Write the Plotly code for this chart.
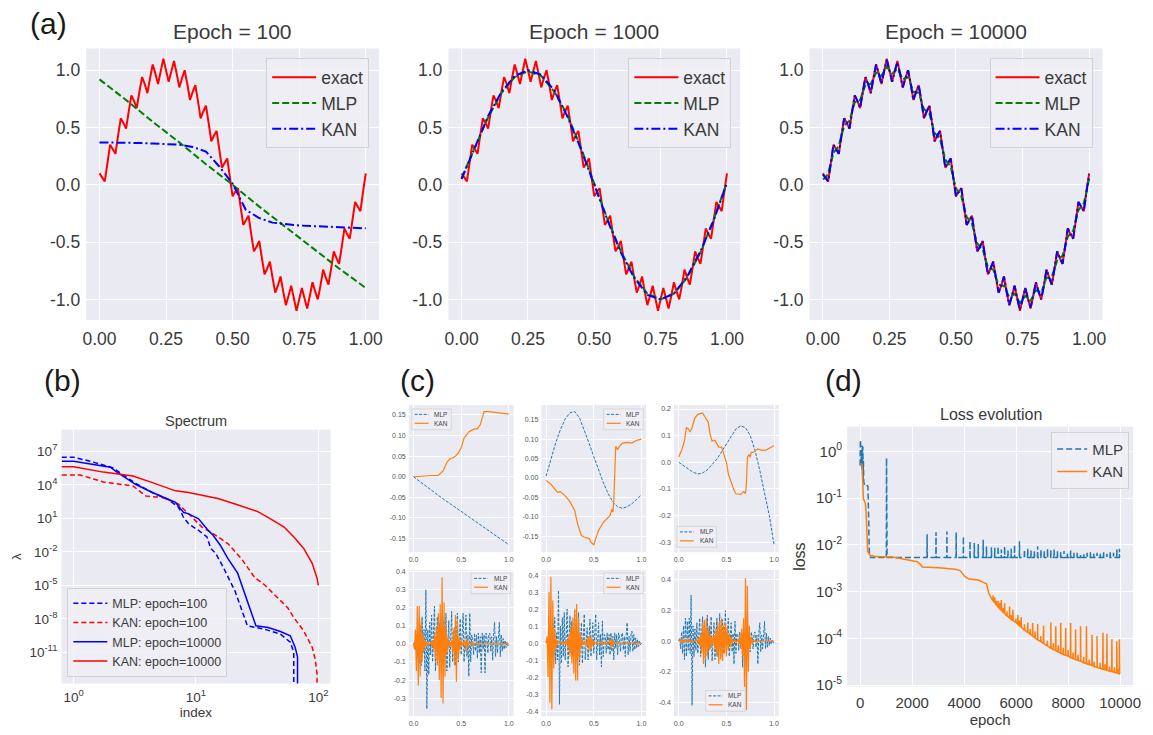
import numpy as np
import plotly.graph_objects as go

W, H = 1153, 735
BG = "#EAEAF2"
TXT = "#3a3a3a"
FONT = "Liberation Sans, Arial, sans-serif"

# ---------------- (a) function fits at three training stages ----------------
exact = [0.10, 0.06, 0.03, 0.19, 0.35, 0.31, 0.27, 0.43, 0.58, 0.54, 0.49, 0.64, 0.78, 0.73, 0.67,
         0.81, 0.94, 0.88, 0.80, 0.93, 1.05, 0.97, 0.88, 0.99, 1.10, 1.00, 0.90, 0.99, 1.08, 0.97,
         0.85, 0.93, 1.00, 0.88, 0.74, 0.81, 0.87, 0.73, 0.58, 0.64, 0.69, 0.54, 0.38, 0.43, 0.47,
         0.31, 0.15, 0.19, 0.23, 0.06, -0.10, -0.06, -0.03, -0.19, -0.35, -0.31, -0.27, -0.43, -0.58,
         -0.54, -0.49, -0.64, -0.78, -0.73, -0.67, -0.81, -0.94, -0.88, -0.80, -0.93, -1.05, -0.97,
         -0.88, -0.99, -1.10, -1.00, -0.90, -0.99, -1.08, -0.97, -0.85, -0.93, -1.00, -0.88, -0.74,
         -0.81, -0.87, -0.73, -0.58, -0.64, -0.69, -0.54, -0.38, -0.43, -0.47, -0.31, -0.15, -0.19,
         -0.23, -0.06, 0.10]

mlp_e100 = [0.92, 0.74, 0.55, 0.37, 0.18, 0.00, -0.19, -0.37, -0.55, -0.73, -0.90]
kan_e100 = [0.37, 0.37, 0.37, 0.365, 0.36, 0.355, 0.35, 0.33, 0.29, 0.16, 0.01, -0.22, -0.29,
            -0.33, -0.345, -0.355, -0.36, -0.365, -0.37, -0.375, -0.38]

mlp_e1000 = [0.06, 0.33, 0.59, 0.80, 0.94, 0.99, 0.95, 0.81, 0.60, 0.32, 0.01, -0.30, -0.58,
             -0.80, -0.95, -1.00, -0.95, -0.81, -0.59, -0.30, 0.02]
kan_e1000 = [0.05, 0.32, 0.60, 0.81, 0.95, 1.00, 0.96, 0.82, 0.59, 0.31, 0.00, -0.31, -0.59,
             -0.81, -0.96, -1.00, -0.95, -0.80, -0.58, -0.31, 0.02]

mlp_e10000 = [0.05, 0.06, 0.10, 0.19, 0.28, 0.31, 0.34, 0.43, 0.51, 0.54, 0.56, 0.64, 0.72, 0.73,
              0.74, 0.81, 0.87, 0.88, 0.88, 0.93, 0.98, 0.97, 0.95, 0.99, 1.03, 1.00, 0.97, 0.99,
              1.01, 0.97, 0.92, 0.93, 0.94, 0.88, 0.81, 0.81, 0.80, 0.73, 0.66, 0.64, 0.62, 0.54,
              0.45, 0.43, 0.40, 0.31, 0.22, 0.19, 0.16, 0.06, -0.03, -0.06, -0.10, -0.19, -0.28,
              -0.31, -0.34, -0.43, -0.51, -0.54, -0.56, -0.64, -0.72, -0.73, -0.74, -0.81, -0.87,
              -0.88, -0.88, -0.93, -0.98, -0.97, -0.95, -0.99, -1.03, -1.00, -0.97, -0.99, -1.01,
              -0.97, -0.92, -0.93, -0.94, -0.88, -0.81, -0.81, -0.80, -0.73, -0.66, -0.64, -0.62,
              -0.54, -0.45, -0.43, -0.40, -0.31, -0.22, -0.19, -0.16, -0.06, 0.05]
kan_e10000 = [0.09, 0.06, 0.03, 0.19, 0.35, 0.31, 0.27, 0.43, 0.58, 0.54, 0.49, 0.64, 0.78, 0.73,
              0.67, 0.81, 0.94, 0.88, 0.80, 0.93, 1.05, 0.97, 0.88, 0.99, 1.09, 1.00, 0.90, 0.99,
              1.07, 0.97, 0.85, 0.93, 1.00, 0.88, 0.74, 0.81, 0.87, 0.73, 0.58, 0.64, 0.69, 0.54,
              0.38, 0.43, 0.47, 0.31, 0.15, 0.19, 0.23, 0.06, -0.10, -0.06, -0.03, -0.19, -0.35,
              -0.31, -0.27, -0.43, -0.58, -0.54, -0.49, -0.64, -0.78, -0.73, -0.67, -0.81, -0.94,
              -0.88, -0.80, -0.93, -1.05, -0.97, -0.88, -0.99, -1.09, -1.00, -0.90, -0.99, -1.07,
              -0.97, -0.85, -0.93, -1.00, -0.88, -0.74, -0.81, -0.87, -0.73, -0.58, -0.64, -0.69,
              -0.54, -0.38, -0.43, -0.47, -0.31, -0.15, -0.19, -0.23, -0.06, 0.09]

fit_titles = ["Epoch = 100", "Epoch = 1000", "Epoch = 10000"]
fit_mlp = [mlp_e100, mlp_e1000, mlp_e10000]
fit_kan = [kan_e100, kan_e1000, kan_e10000]
fit_xticks = [0.0, 0.25, 0.5, 0.75, 1.0]
fit_xtext = ["0.00", "0.25", "0.50", "0.75", "1.00"]
fit_yticks = [-1.0, -0.5, 0.0, 0.5, 1.0]
fit_ytext = ["-1.0", "-0.5", "0.0", "0.5", "1.0"]

# ---------------- (b) NTK spectrum (log10 of eigenvalues) ----------------
mlp100_idx = [0.8, 1.0, 1.36, 2.1, 3.2, 4.4, 6.0, 7.2, 7.9, 8.7, 10.5, 12.3, 13.2, 14.5, 16.6,
              20.9, 26.3, 36.3, 49, 59, 63, 63]
mlp100_loglam = [6.47, 6.47, 6.12, 5.52, 4.14, 3.31, 2.66, 1.99, 1.10, 0.51, -0.08, -0.67, -1.70,
                 -2.14, -3.32, -5.54, -8.63, -8.93, -9.37, -10.1, -11.0, -16]
kan100_idx = [0.8, 1.13, 1.75, 3.05, 3.9, 5.3, 7.2, 8.7, 11.2, 14.5, 18.2, 23.4, 30.2, 36.3, 46.8,
              56.2, 63.1, 75.9, 89.1, 94.6, 97.7, 97.7]
kan100_loglam = [4.88, 4.88, 4.26, 3.9, 3.0, 2.87, 2.28, 1.40, 0.22, -0.52, -1.26, -2.59, -4.3,
                 -4.95, -6.13, -7.01, -7.9, -9.08, -10.55, -11.7, -13.0, -16]
mlp10k_idx = [0.8, 1.0, 2.0, 2.2, 3.2, 4.4, 6.8, 7.9, 8.7, 10.5, 12.6, 13.8, 15.8, 18.2, 21.9,
              27.5, 30.9, 38.9, 49, 59, 64.6, 67.6, 67.6]
mlp10k_loglam = [6.12, 6.12, 5.58, 5.23, 4.05, 3.31, 2.43, 1.54, 1.40, 0.95, -0.08, -0.52, -1.41,
                 -2.59, -3.91, -7.01, -8.63, -8.78, -9.14, -9.52, -10.55, -11.4, -16]
kan10k_idx = [0.8, 1.0, 1.75, 3.05, 4.4, 6.8, 8.7, 11.9, 15.1, 20.9, 32.0, 40.7, 52.5, 63.1,
              75.9, 89.1, 97.7, 100]
kan10k_loglam = [5.61, 5.61, 5.14, 4.79, 4.2, 3.46, 3.31, 3.02, 2.78, 2.28, 1.6, 0.95, 0.22,
                 -0.67, -1.70, -3.03, -4.36, -5.0]
spec_ticks = [7, 4, 1, -2, -5, -8, -11]

# ---------------- (c) eigenfunctions ----------------
c_tl_x = [0.0, 0.1, 0.2, 0.3, 0.4, 0.5, 0.6, 0.7, 0.8, 0.9, 1.0]
c_tl_mlp = [0.0, -0.018, -0.035, -0.052, -0.068, -0.084, -0.100, -0.117, -0.133, -0.149, -0.165]
c_tl_kx = [0.0, 0.1, 0.2, 0.26, 0.31, 0.35, 0.38, 0.415, 0.44, 0.47, 0.5, 0.53, 0.55, 0.585,
           0.64, 0.67, 0.70, 0.72, 0.74, 0.79, 0.89, 1.0]
c_tl_kan = [0.0, 0.002, 0.003, 0.003, 0.014, 0.035, 0.043, 0.046, 0.050, 0.058, 0.070, 0.094,
            0.100, 0.110, 0.116, 0.116, 0.126, 0.140, 0.158, 0.158, 0.156, 0.152]

c_tm_x = [0.0, 0.05, 0.1, 0.15, 0.2, 0.25, 0.3, 0.35, 0.4, 0.45, 0.5, 0.55, 0.6, 0.65, 0.7,
          0.75, 0.8, 0.85, 0.9, 0.95, 1.0]
c_tm_mlp = [0.005, 0.05, 0.09, 0.125, 0.152, 0.168, 0.171, 0.155, 0.125, 0.09, 0.055, 0.02,
            -0.012, -0.04, -0.062, -0.074, -0.078, -0.074, -0.066, -0.055, -0.043]
c_tm_kx = [0.0, 0.05, 0.1, 0.12, 0.15, 0.2, 0.25, 0.3, 0.33, 0.37, 0.4, 0.43, 0.45, 0.47, 0.5,
           0.52, 0.55, 0.6, 0.63, 0.67, 0.69, 0.7, 0.71, 0.72, 0.73, 0.75, 0.77, 0.8, 0.85, 0.9,
           0.95, 1.0]
c_tm_kan = [-0.006, -0.016, -0.031, -0.037, -0.035, -0.046, -0.061, -0.084, -0.118, -0.148,
            -0.152, -0.155, -0.156, -0.165, -0.172, -0.156, -0.135, -0.114, -0.107, -0.097,
            -0.080, -0.088, -0.060, -0.003, 0.082, 0.073, 0.082, 0.090, 0.092, 0.090, 0.097, 0.100]

c_tr_x = c_tm_x
c_tr_mlp = [0.0, -0.012, -0.025, -0.037, -0.044, -0.040, -0.028, -0.010, 0.012, 0.040, 0.070,
            0.100, 0.125, 0.137, 0.130, 0.100, 0.045, -0.030, -0.110, -0.200, -0.310]
c_tr_kx = [0.0, 0.03, 0.06, 0.08, 0.1, 0.12, 0.14, 0.17, 0.2, 0.25, 0.28, 0.31, 0.33, 0.35, 0.38,
           0.4, 0.42, 0.45, 0.47, 0.5, 0.52, 0.55, 0.58, 0.6, 0.65, 0.68, 0.7, 0.71, 0.72, 0.74,
           0.75, 0.76, 0.78, 0.8, 0.83, 0.87, 0.92, 0.96, 1.0]
c_tr_kan = [0.020, 0.045, 0.080, 0.130, 0.125, 0.115, 0.130, 0.167, 0.180, 0.185, 0.167, 0.150,
            0.105, 0.080, 0.083, 0.068, 0.057, 0.057, 0.037, 0.000, -0.043, -0.075, -0.105,
            -0.118, -0.120, -0.110, -0.117, -0.080, 0.019, 0.030, 0.019, 0.037, 0.037, 0.043,
            0.050, 0.045, 0.047, 0.055, 0.062]

c_bl_mlp = [0.00, 0.01, -0.03, 0.05, -0.08, 0.06, -0.11, 0.10, -0.12, 0.15, -0.05, 0.08, -0.15,
            0.30, -0.36, 0.08, -0.17, 0.12, -0.06, 0.16, -0.10, 0.05, 0.21, -0.15, 0.06, 0.15,
            -0.05, 0.12, -0.08, 0.03, 0.15, -0.12, 0.13, -0.06, 0.17, -0.15, 0.05, 0.13, -0.13,
            0.08, 0.18, -0.10, 0.06, 0.09, -0.12, 0.05, 0.17, -0.10, 0.06, 0.14, -0.06, 0.10, 0.17,
            -0.10, 0.09, 0.16, -0.07, 0.05, -0.18, 0.17, -0.10, 0.05, 0.03, -0.06, 0.06, -0.04,
            0.05, -0.08, 0.06, -0.05, 0.04, -0.16, 0.06, -0.03, 0.05, -0.16, 0.06, 0.03, -0.05,
            0.05, 0.06, -0.04, 0.04, -0.09, 0.05, 0.12, -0.07, 0.04, -0.05, 0.05, 0.12, -0.07,
            0.05, -0.04, 0.03, -0.03, 0.02, -0.02, 0.01, -0.01, 0.00]
c_bl_kan = [0.00, -0.03, 0.08, -0.15, 0.21, -0.23, 0.21, -0.18, 0.13, -0.10, 0.06, -0.04, 0.02,
            -0.01, 0.01, -0.01, 0.00, 0.00, 0.01, -0.01, 0.02, -0.03, 0.05, -0.08, 0.10, -0.12,
            0.17, -0.20, 0.22, -0.30, 0.37, -0.33, 0.23, -0.18, 0.10, -0.06, 0.04, -0.02, 0.01,
            -0.01, 0.02, -0.05, 0.08, -0.12, 0.16, -0.21, 0.13, -0.08, 0.04, -0.03, 0.02, -0.01,
            0.01, 0.00, 0.02, -0.04, 0.03, -0.02, 0.01, 0.00, 0.00, 0.01, -0.01, 0.00, 0.00, 0.00,
            0.01, 0.00, -0.01, 0.00, 0.00, 0.00, 0.00, 0.00, 0.00, 0.00, 0.00, 0.00, 0.00, 0.00,
            0.00, 0.00, 0.00, 0.00, 0.00, 0.00, 0.00, 0.00, 0.00, 0.00, 0.00, 0.00, 0.00, 0.00,
            0.00, 0.00, 0.00, 0.00, 0.00, 0.00, 0.00]
c_bm_mlp = [0.00, 0.02, -0.04, 0.05, -0.06, 0.08, -0.10, 0.12, -0.08, 0.15, -0.12, 0.06, -0.10,
            0.31, -0.36, 0.10, -0.12, 0.15, -0.08, 0.18, -0.10, 0.08, 0.20, -0.14, 0.05, 0.16,
            -0.06, 0.13, -0.08, 0.05, 0.19, -0.12, 0.10, -0.05, 0.18, -0.13, 0.06, 0.12, -0.12,
            0.08, 0.17, -0.10, 0.05, 0.09, -0.10, 0.05, 0.14, -0.08, 0.06, 0.12, -0.06, 0.08, 0.17,
            -0.10, 0.07, 0.12, -0.07, 0.05, -0.14, 0.13, -0.08, 0.05, 0.04, -0.06, 0.06, -0.04,
            0.05, -0.07, 0.06, -0.05, 0.04, -0.10, 0.06, -0.03, 0.05, -0.07, 0.06, 0.03, -0.05,
            0.05, 0.06, -0.04, 0.04, -0.08, 0.05, 0.12, -0.07, 0.04, -0.05, 0.05, 0.07, -0.05,
            0.05, -0.04, 0.03, -0.03, 0.02, -0.02, 0.01, -0.01, 0.00]
c_bm_kan = [0.00, 0.04, -0.20, 0.30, -0.35, 0.39, -0.39, 0.25, -0.15, 0.08, -0.04, 0.02, -0.01,
            0.01, 0.00, 0.00, 0.00, 0.01, -0.01, 0.00, 0.01, -0.01, 0.02, -0.03, 0.05, -0.08,
            0.10, -0.12, 0.15, -0.18, 0.20, -0.22, 0.23, -0.22, 0.15, -0.10, 0.06, -0.03, 0.02,
            -0.01, 0.01, 0.00, 0.01, -0.02, 0.04, -0.05, 0.05, -0.04, 0.03, -0.02, 0.01, 0.00,
            0.00, 0.01, -0.01, 0.00, 0.00, 0.00, 0.01, 0.00, -0.01, 0.00, 0.01, -0.01, 0.00, 0.00,
            0.00, 0.02, -0.03, 0.03, -0.02, 0.01, 0.00, 0.00, 0.00, 0.00, 0.00, 0.00, 0.00, 0.00,
            0.00, 0.00, 0.00, 0.00, 0.00, 0.00, 0.00, 0.00, 0.00, 0.00, 0.00, 0.00, 0.00, 0.00,
            0.00, 0.00, 0.00, 0.00, 0.00, 0.00, 0.00]
c_br_mlp = [0.00, 0.02, -0.05, 0.06, -0.08, 0.10, -0.12, 0.15, -0.10, 0.13, -0.06, 0.15, -0.08,
            0.30, -0.42, 0.10, -0.10, 0.08, -0.06, 0.12, -0.08, 0.05, 0.15, -0.10, 0.05, 0.16,
            -0.06, 0.12, -0.17, 0.05, 0.17, -0.12, 0.10, -0.05, 0.16, -0.13, 0.06, 0.12, -0.12,
            0.08, 0.15, -0.10, 0.05, 0.18, -0.10, 0.05, 0.14, -0.08, 0.06, 0.20, -0.06, 0.08, 0.15,
            -0.10, 0.07, 0.12, -0.07, 0.05, -0.15, 0.13, -0.08, 0.05, 0.04, -0.06, 0.06, -0.04,
            0.05, -0.17, 0.06, -0.05, 0.04, -0.10, 0.06, -0.03, 0.05, -0.07, 0.06, 0.03, -0.05,
            0.05, 0.06, -0.04, 0.04, -0.15, 0.05, 0.12, -0.07, 0.04, -0.05, 0.05, 0.13, -0.05,
            0.05, -0.04, 0.03, -0.03, 0.02, -0.02, 0.01, -0.01, 0.00]
c_br_kan = [0.00, 0.01, -0.01, 0.01, -0.01, 0.01, -0.01, 0.01, 0.00, 0.01, -0.01, 0.01, 0.00,
            0.00, 0.01, -0.01, 0.00, 0.00, 0.00, 0.01, -0.01, 0.02, -0.03, 0.05, -0.08, 0.12,
            -0.15, 0.14, -0.12, 0.15, -0.10, 0.08, -0.06, 0.05, -0.04, 0.03, -0.02, 0.04, -0.06,
            0.08, -0.10, 0.12, -0.15, 0.13, -0.12, 0.15, -0.13, 0.10, -0.08, 0.12, -0.10, 0.09,
            -0.06, 0.05, -0.04, 0.03, -0.02, 0.01, 0.00, 0.01, -0.01, 0.00, 0.01, -0.02, 0.03,
            -0.05, 0.08, -0.10, 0.15, -0.30, 0.41, -0.45, 0.36, -0.20, 0.10, -0.05, 0.03, -0.02,
            0.01, 0.00, 0.00, 0.00, 0.00, 0.00, 0.00, 0.00, 0.00, 0.00, 0.00, 0.00, 0.00, 0.00,
            0.00, 0.00, 0.00, 0.00, 0.00, 0.00, 0.00, 0.00, 0.00]

# ---------------- (d) loss history (log10 loss) ----------------
kan_loss_ep = [0, 60, 76, 100, 127, 178, 203, 228, 266, 292, 380, 610, 1244, 1750, 2195, 2322,
               2386, 3020, 3655, 3845, 4036, 4188, 4543, 4733, 4860, 4950, 5050, 5305, 5558,
               5939, 6320, 6827, 7335, 7843, 8477, 9112, 9746, 10000]
kan_loss_log = [-0.27, -0.27, -0.30, -0.52, -1.01, -1.08, -1.12, -1.29, -1.64, -2.14, -2.22,
                -2.25, -2.26, -2.31, -2.36, -2.42, -2.47, -2.49, -2.52, -2.55, -2.68, -2.73,
                -2.75, -2.80, -2.83, -3.04, -3.15, -3.33, -3.47, -3.64, -3.82, -4.03, -4.21,
                -4.35, -4.49, -4.62, -4.72, -4.76]
# spikes: epoch, peak (log10), level of the curve underneath (log10)
kan_spike_ep = [5114, 5178, 5240, 5305, 5370, 5431, 5500, 5558, 5650, 5749, 5820, 5876, 5990,
                6066, 6130, 6193, 6320, 6447, 6540, 6637, 6730, 6827, 6950, 7056, 7200, 7335,
                7430, 7525, 7620, 7716, 7810, 7906, 8000, 8096, 8190, 8287, 8380, 8477, 8600,
                8706, 8810, 8921, 9000, 9112, 9230, 9340, 9420, 9492, 9590, 9683, 9780, 9873,
                9930, 9975]
kan_spike_peak = [-3.08, -3.12, -3.20, -3.20, -3.25, -3.18, -3.35, -3.25, -3.42, -3.32, -3.50,
                  -3.39, -3.58, -3.50, -3.62, -3.55, -3.70, -3.66, -3.80, -3.67, -3.85, -3.69,
                  -3.95, -3.73, -4.05, -3.66, -4.10, -3.74, -4.15, -3.67, -4.20, -3.78, -4.25,
                  -3.67, -4.30, -3.81, -4.35, -3.74, -4.40, -3.74, -4.45, -3.92, -4.50, -3.95,
                  -4.52, -3.88, -4.55, -3.90, -4.60, -4.02, -4.62, -4.06, -4.65, -4.02]
kan_spike_foot = [-3.20, -3.24, -3.28, -3.33, -3.37, -3.40, -3.44, -3.47, -3.52, -3.56, -3.60,
                  -3.62, -3.66, -3.70, -3.73, -3.76, -3.82, -3.87, -3.91, -3.95, -3.99, -4.03,
                  -4.07, -4.11, -4.16, -4.21, -4.24, -4.26, -4.29, -4.32, -4.34, -4.36, -4.38,
                  -4.41, -4.43, -4.45, -4.47, -4.49, -4.52, -4.54, -4.56, -4.58, -4.60, -4.62,
                  -4.64, -4.66, -4.67, -4.68, -4.70, -4.71, -4.73, -4.74, -4.75, -4.76]

mlp_loss_ep = [0, 8, 16, 24, 32, 45, 55, 65, 75, 85, 95, 105, 115, 125, 140, 160, 200, 230, 270,
               300, 330, 355, 400, 10000]
mlp_loss_log = [-0.30, 0.25, -0.20, 0.10, -0.30, 0.00, -0.35, -0.10, -0.40, 0.15, -0.50, 0.10,
                -0.60, -0.20, -0.65, -0.70, -0.68, -0.70, -0.72, -0.75, -1.50, -2.20, -2.27, -2.27]
mlp_floor_log = -2.27
mlp_spike_ep = [1015, 1030, 2576, 2919, 3338, 3693, 3972, 4226, 4391, 4543, 4733, 4860, 5050,
                5178, 5305, 5431, 5558, 5685, 5812, 5939, 6129, 6320, 6447, 6574, 6701, 6827,
                6954, 7081, 7208, 7335, 7462, 7589, 7716, 7843, 7970, 8096, 8223, 8350, 8477,
                8604, 8731, 8858, 8985, 9112, 9239, 9365, 9492, 9619, 9746, 9873, 9975]
mlp_spike_peak = [-0.14, -1.78, -1.77, -1.73, -1.71, -1.73, -1.82, -1.92, -1.96, -1.98, -1.89,
                  -2.03, -2.05, -2.06, -2.03, -2.10, -2.03, -2.12, -2.08, -2.00, -1.92, -2.10,
                  -2.08, -2.12, -2.13, -2.03, -2.10, -2.13, -2.08, -2.10, -2.10, -2.13, -2.15,
                  -2.13, -2.17, -2.12, -2.17, -2.17, -2.19, -2.19, -2.17, -2.15, -2.19, -2.17,
                  -2.19, -2.15, -2.19, -2.13, -2.17, -2.10, -2.08]


def with_spikes(ep, logv, s_ep, s_peak, s_foot, half=9):
    """Merge a smooth curve with narrow spikes (epoch, peak, foot level)."""
    pts = list(zip(ep, logv))
    for e, p, f in zip(s_ep, s_peak, s_foot):
        pts += [(e - half, f), (e, p), (e + half, f)]
    pts.sort(key=lambda t: t[0])
    xs = [t[0] for t in pts]
    ys = [10 ** t[1] for t in pts]
    return xs, ys


def dom_x(a, b):
    return [a / W, b / W]


def dom_y(top, bottom):
    return [1 - bottom / H, 1 - top / H]


fig = go.Figure()
layout = dict(
    width=W, height=H, margin=dict(l=0, r=0, t=0, b=0),
    paper_bgcolor="white", plot_bgcolor=BG,
    font=dict(family=FONT, color=TXT),
    showlegend=True,
)
annotations = []
shapes = []


def set_axes(n, xdom, ydom, xkw, ykw):
    s = "" if n == 1 else str(n)
    base = dict(showline=False, zeroline=False, ticks="", gridcolor="white", showgrid=True)
    layout["xaxis" + s] = dict(base, domain=xdom, anchor="y" + s, **xkw)
    layout["yaxis" + s] = dict(base, domain=ydom, anchor="x" + s, **ykw)


def legend_box(name, x, y, xa, ya, size, itemwidth=30):
    layout[name] = dict(x=x, y=y, xanchor=xa, yanchor=ya, xref="paper", yref="paper",
                        bgcolor="rgba(238,238,244,0.85)", bordercolor="#d2d2d2", borderwidth=1,
                        font=dict(size=size, color=TXT, family=FONT), itemwidth=itemwidth,
                        tracegroupgap=0)


def mini_legend(left, top):
    """Compact two-entry key (MLP dashed / KAN solid) for the small eigenfunction panels."""
    w, h = 40, 21
    shapes.append(dict(type="rect", xref="paper", yref="paper", x0=left / W, x1=(left + w) / W,
                       y0=1 - (top + h) / H, y1=1 - top / H, line=dict(color="#d2d2d2", width=0.8),
                       fillcolor="rgba(238,238,244,0.85)", layer="above"))
    rows = [("MLP", top + 5.5, "#1f77b4", "3px,1.5px", 1.0), ("KAN", top + 14.5, "#ff7f0e", "solid", 1.2)]
    for label, yy, col, dsh, lw in rows:
        shapes.append(dict(type="line", xref="paper", yref="paper", x0=(left + 3) / W,
                           x1=(left + 17) / W, y0=1 - yy / H, y1=1 - yy / H,
                           line=dict(color=col, width=lw, dash=dsh), layer="above"))
        annotations.append(dict(text=label, x=(left + 21) / W, y=1 - yy / H, xref="paper",
                                yref="paper", showarrow=False, xanchor="left", yanchor="middle",
                                font=dict(size=6.5, color="#444")))


# ---- row (a)
fit_x = np.linspace(0, 1, len(exact))
fit_xdoms = [(83, 379), (449, 744), (814, 1110)]
fit_leg_right = [369, 735, 1100]
for i in range(3):
    n = i + 1
    s = "" if n == 1 else str(n)
    lg = "legend" if n == 1 else "legend" + str(n)
    set_axes(n, dom_x(*fit_xdoms[i]), dom_y(47, 322),
             dict(range=[-0.05, 1.05], tickvals=fit_xticks, ticktext=fit_xtext,
                  tickfont=dict(size=17.5), gridwidth=1.3, ticklabelstandoff=6),
             dict(range=[-1.18, 1.19], tickvals=fit_yticks, ticktext=fit_ytext,
                  tickfont=dict(size=17.5), gridwidth=1.3, ticklabelstandoff=5))
    fig.add_trace(go.Scatter(x=fit_x, y=exact, mode="lines", name="exact",
                             line=dict(color="#FF0000", width=2),
                             xaxis="x" + s, yaxis="y" + s, legend=lg))
    fig.add_trace(go.Scatter(x=np.linspace(0, 1, len(fit_mlp[i])), y=fit_mlp[i], mode="lines",
                             name="MLP", line=dict(color="#008000", width=2, dash="7px,3px"),
                             xaxis="x" + s, yaxis="y" + s, legend=lg))
    fig.add_trace(go.Scatter(x=np.linspace(0, 1, len(fit_kan[i])), y=fit_kan[i], mode="lines",
                             name="KAN",
                             line=dict(color="#0000FF", width=2, dash="9px,3px,2px,3px"),
                             xaxis="x" + s, yaxis="y" + s, legend=lg))
    legend_box(lg, fit_leg_right[i] / W, 1 - 57 / H, "right", "top", 17.5, itemwidth=44)
    cx = (fit_xdoms[i][0] + fit_xdoms[i][1]) / 2 / W
    annotations.append(dict(text=fit_titles[i], x=cx, y=1 - 30 / H, xref="paper", yref="paper",
                            showarrow=False, font=dict(size=21, color=TXT), xanchor="center",
                            yanchor="middle"))

# ---- (b) spectrum
set_axes(4, dom_x(58, 330), dom_y(433, 690),
         dict(type="log", range=[-0.1, 2.1], tickvals=[1, 10, 100],
              ticktext=["10<sup>0</sup>", "10<sup>1</sup>", "10<sup>2</sup>"],
              tickfont=dict(size=13.5), ticklabelstandoff=4,
              title=dict(text="index", font=dict(size=13.5), standoff=2)),
         dict(type="log", range=[-13.8, 8.94], tickvals=[10.0 ** k for k in spec_ticks],
              ticktext=["10<sup>%d</sup>" % k for k in spec_ticks],
              tickfont=dict(size=13.5), ticklabelstandoff=3,
              title=dict(text="λ", font=dict(size=13.5), standoff=4)))
spec_series = [
    (mlp100_idx, mlp100_loglam, "MLP: epoch=100", "#0000FF", "5px,3px"),
    (kan100_idx, kan100_loglam, "KAN: epoch=100", "#FF0000", "5px,3px"),
    (mlp10k_idx, mlp10k_loglam, "MLP: epoch=10000", "#0000FF", "solid"),
    (kan10k_idx, kan10k_loglam, "KAN: epoch=10000", "#FF0000", "solid"),
]
for idx, ll, nm, col, dsh in spec_series:
    fig.add_trace(go.Scatter(x=idx, y=[10.0 ** v for v in ll], mode="lines", name=nm,
                             line=dict(color=col, width=1.5, dash=dsh),
                             xaxis="x4", yaxis="y4", legend="legend4"))
legend_box("legend4", 64 / W, 1 - 683 / H, "left", "bottom", 12.5, itemwidth=34)
annotations.append(dict(text="Spectrum", x=194 / W, y=1 - 424 / H, xref="paper", yref="paper",
                        showarrow=False, font=dict(size=14.5, color=TXT), xanchor="center",
                        yanchor="middle"))

# ---- (c) eigenfunction grid
c_xdoms = [(409, 515), (543, 649), (677, 783)]
c_ydoms = [(408, 557), (575, 723)]
c_data = [
    (c_tl_x, c_tl_mlp, c_tl_kx, c_tl_kan),
    (c_tm_x, c_tm_mlp, c_tm_kx, c_tm_kan),
    (c_tr_x, c_tr_mlp, c_tr_kx, c_tr_kan),
    (None, c_bl_mlp, None, c_bl_kan),
    (None, c_bm_mlp, None, c_bm_kan),
    (None, c_br_mlp, None, c_br_kan),
]
c_yranges = [[-0.183, 0.174], [-0.191, 0.188], [-0.337, 0.215],
             [-0.40, 0.41], [-0.43, 0.43], [-0.49, 0.465]]
c_yticks = [
    [-0.15, -0.10, -0.05, 0.0, 0.05, 0.10, 0.15],
    [-0.15, -0.10, -0.05, 0.0, 0.05, 0.10, 0.15],
    [-0.3, -0.2, -0.1, 0.0, 0.1, 0.2],
    [-0.3, -0.2, -0.1, 0.0, 0.1, 0.2, 0.3, 0.4],
    [-0.4, -0.3, -0.2, -0.1, 0.0, 0.1, 0.2, 0.3, 0.4],
    [-0.4, -0.2, 0.0, 0.2, 0.4],
]
c_yfmt = ["%.2f", "%.2f", "%.1f", "%.1f", "%.1f", "%.1f"]
# top-left corner (px) of each compact key
c_legs = [(412, 412), (606, 412), (680, 531), (472, 578), (606, 578), (709, 697)]
for k in range(6):
    n = 5 + k
    s = str(n)
    xd = c_xdoms[k % 3]
    yd = c_ydoms[k // 3]
    set_axes(n, dom_x(*xd), dom_y(*yd),
             dict(range=[-0.05, 1.05], tickvals=[0.0, 0.5, 1.0], ticktext=["0.0", "0.5", "1.0"],
                  tickfont=dict(size=7, color="#555"), gridwidth=0.9, ticklabelstandoff=2),
             dict(range=c_yranges[k], tickvals=c_yticks[k],
                  ticktext=[(c_yfmt[k] % v).replace("-0.00", "0.00") for v in c_yticks[k]],
                  tickfont=dict(size=7, color="#555"), gridwidth=0.9, ticklabelstandoff=2))
    mx, my, kx, ky = c_data[k]
    if mx is None:
        mx = np.linspace(0, 1, len(my))
        kx = np.linspace(0, 1, len(ky))
    fig.add_trace(go.Scatter(x=mx, y=my, mode="lines", name="MLP", showlegend=False,
                             line=dict(color="#1f77b4", width=1, dash="3px,1.5px"),
                             xaxis="x" + s, yaxis="y" + s))
    fig.add_trace(go.Scatter(x=kx, y=ky, mode="lines", name="KAN", showlegend=False,
                             line=dict(color="#ff7f0e", width=1.2),
                             xaxis="x" + s, yaxis="y" + s))
    mini_legend(*c_legs[k])

# ---- (d) loss evolution
mlp_x, mlp_y = with_spikes(mlp_loss_ep, mlp_loss_log, mlp_spike_ep, mlp_spike_peak,
                           [mlp_floor_log] * len(mlp_spike_ep), half=6)
kan_x, kan_y = with_spikes(kan_loss_ep, kan_loss_log, kan_spike_ep, kan_spike_peak,
                           kan_spike_foot, half=9)
set_axes(11, dom_x(852, 1141), dom_y(430, 693),
         dict(range=[-500, 10500], tickvals=[0, 2000, 4000, 6000, 8000, 10000],
              ticktext=["0", "2000", "4000", "6000", "8000", "10000"],
              tickfont=dict(size=15), ticklabelstandoff=5,
              title=dict(text="epoch", font=dict(size=15), standoff=3)),
         dict(type="log", range=[-5.03, 0.53], tickvals=[1, 0.1, 0.01, 1e-3, 1e-4, 1e-5],
              ticktext=["10<sup>0</sup>", "10<sup>-1</sup>", "10<sup>-2</sup>", "10<sup>-3</sup>",
                        "10<sup>-4</sup>", "10<sup>-5</sup>"],
              tickfont=dict(size=15), ticklabelstandoff=4,
              title=dict(text="loss", font=dict(size=16), standoff=6)))
fig.add_trace(go.Scatter(x=mlp_x, y=mlp_y, mode="lines", name="MLP",
                         line=dict(color="#1f77b4", width=1.5, dash="6px,3px"),
                         xaxis="x11", yaxis="y11", legend="legend11"))
fig.add_trace(go.Scatter(x=kan_x, y=kan_y, mode="lines", name="KAN",
                         line=dict(color="#ff7f0e", width=1.5),
                         xaxis="x11", yaxis="y11", legend="legend11"))
legend_box("legend11", 1137 / W, 1 - 435 / H, "right", "top", 15, itemwidth=30)
annotations.append(dict(text="Loss evolution", x=997 / W, y=1 - 418 / H, xref="paper",
                        yref="paper", showarrow=False, font=dict(size=16, color=TXT),
                        xanchor="center", yanchor="middle"))

# ---- panel letters
for lab, px, py in [("(a)", 45, 22), ("(b)", 59, 383), ("(c)", 418, 383), ("(d)", 848, 383)]:
    annotations.append(dict(text=lab, x=px / W, y=1 - py / H, xref="paper", yref="paper",
                            showarrow=False, font=dict(size=30, color="#1a1a1a"),
                            xanchor="center", yanchor="middle"))

layout["annotations"] = annotations
layout["shapes"] = shapes
fig.update_layout(**layout)
fig.write_html("out.html")
